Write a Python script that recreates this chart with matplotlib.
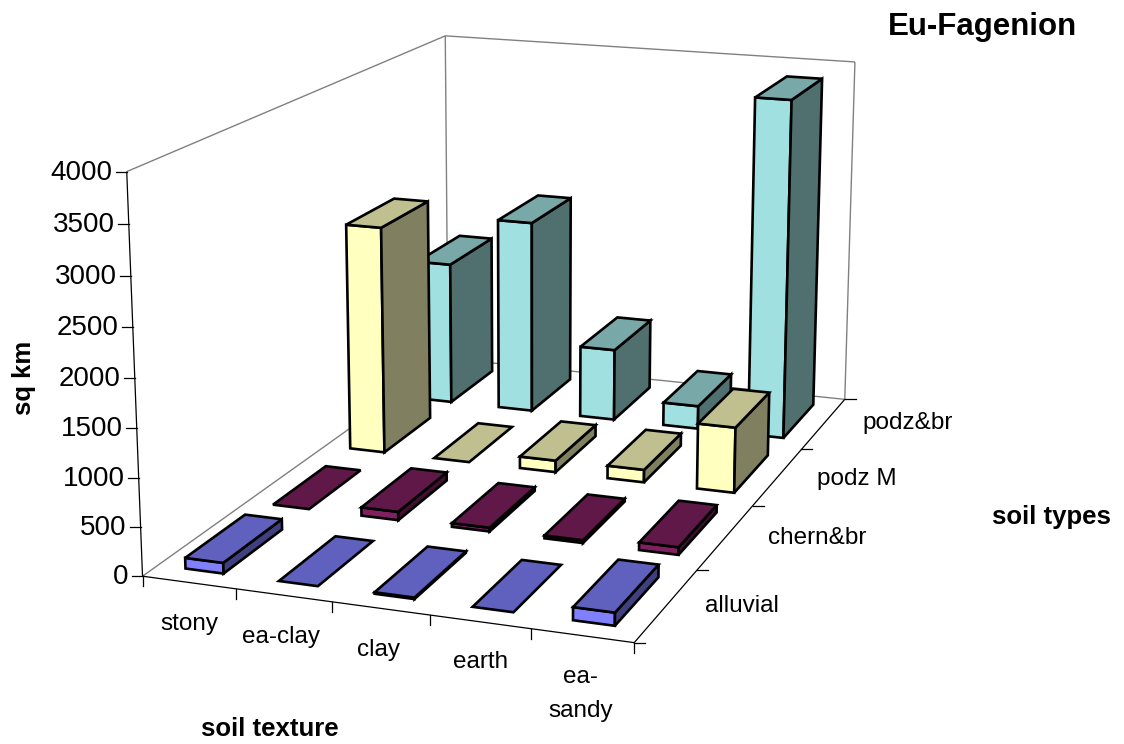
import matplotlib
matplotlib.use("Agg")
import matplotlib.pyplot as plt
from matplotlib.patches import Polygon
import numpy as np

plt.rcParams['font.family'] = ['Liberation Sans', 'DejaVu Sans']

textures = ['stony', 'ea-clay', 'clay', 'earth', 'ea-\nsandy']
soil_types = ['alluvial', 'chern&br', 'podz M', 'podz&br']
z_ticks = [0, 500, 1000, 1500, 2000, 2500, 3000, 3500, 4000]

alluvial = [110, 0, 15, 0, 130]
chern_br = [0, 90, 40, 30, 80]
podz_m = [2540, 0, 130, 140, 720]
podz_br = [1650, 2225, 825, 265, 3845]
series = [alluvial, chern_br, podz_m, podz_br]

front_colors = ['#8080FF', '#802060', '#FFFFC0', '#A0E0E0']

BAR_W = 0.41
BAR_D = 0.67
nx, ny = len(textures), len(soil_types)
ztop = z_ticks[-1]

# box corners (x, y, z) and where they land on the canvas, used to fit the camera
box_pts = np.array([
    [0, 0, 0], [nx, 0, 0], [nx, ny, 0], [0, ny, 0],
    [0, 0, ztop], [nx, ny, ztop], [0, ny, ztop],
], dtype=float)
canvas_pts = np.array([
    [142, 575.5], [634.5, 643], [844.5, 399], [448.5, 359],
    [127, 172], [855, 62], [445, 35.5],
], dtype=float)


def fit_camera(world, screen):
    rows, rhs = [], []
    for (x, y, z), (u, v) in zip(world, screen):
        rows.append([x, y, z, 1, 0, 0, 0, 0, -u * x, -u * y, -u * z])
        rows.append([0, 0, 0, 0, x, y, z, 1, -v * x, -v * y, -v * z])
        rhs += [u, v]
    sol = np.linalg.lstsq(np.array(rows), np.array(rhs), rcond=None)[0]
    return np.append(sol, 1).reshape(3, 4)


CAM = fit_camera(box_pts / [1, 1, 1000], canvas_pts)


def project(x, y, z):
    p = CAM @ np.array([x, y, z / 1000, 1.0])
    return p[0] / p[2], p[1] / p[2]


def shade(color, k):
    rgb = np.array(matplotlib.colors.to_rgb(color))
    return tuple(rgb * k)


def face(ax, corners, color):
    pts = [project(*c) for c in corners]
    ax.add_patch(Polygon(pts, closed=True, facecolor=color, edgecolor='black',
                         linewidth=1.9, joinstyle='miter', zorder=2))


def draw_bar(ax, i, j, value, color):
    x0 = i + 0.5 - BAR_W / 2
    x1 = i + 0.5 + BAR_W / 2
    y0 = j + 0.5 - BAR_D / 2
    y1 = j + 0.5 + BAR_D / 2
    if value > 0:
        face(ax, [(x0, y0, 0), (x1, y0, 0), (x1, y0, value), (x0, y0, value)], color)
        face(ax, [(x1, y0, 0), (x1, y1, 0), (x1, y1, value), (x1, y0, value)], shade(color, 0.5))
    face(ax, [(x0, y0, value), (x1, y0, value), (x1, y1, value), (x0, y1, value)], shade(color, 0.75))


def seg(ax, a, b, color='black', lw=1.0):
    pa, pb = project(*a), project(*b)
    ax.plot([pa[0], pb[0]], [pa[1], pb[1]], color=color, lw=lw, zorder=1,
            solid_capstyle='butt')


fig = plt.figure(figsize=(11.24, 7.44), dpi=100, facecolor='white')
ax = fig.add_axes([0, 0, 1, 1])
ax.set_xlim(0, 1124)
ax.set_ylim(744, 0)
ax.axis('off')

# walls
for a, b in [((0, 0, 0), (0, ny, 0)), ((0, ny, 0), (nx, ny, 0)), ((0, ny, 0), (0, ny, ztop)),
             ((nx, ny, 0), (nx, ny, ztop)), ((0, 0, ztop), (0, ny, ztop)),
             ((0, ny, ztop), (nx, ny, ztop))]:
    seg(ax, a, b, color='#808080')

# axes and tick marks
seg(ax, (0, 0, 0), (0, 0, ztop), lw=0.9)
seg(ax, (0, 0, 0), (nx, 0, 0), lw=0.9)
seg(ax, (nx, 0, 0), (nx, ny, 0), lw=0.9)

for z in z_ticks:
    u, v = project(0, 0, z)
    ax.plot([u - 11, u], [v, v], color='black', lw=0.9, zorder=1)
    ax.text(u - 14, v + 1, str(z), ha='right', va='center', fontsize=20)

for i in range(nx + 1):
    u, v = project(i, 0, 0)
    ax.plot([u, u], [v, v + 10], color='black', lw=0.9, zorder=1)

for j in range(ny + 1):
    u, v = project(nx, j, 0)
    ax.plot([u, u + 11], [v, v], color='black', lw=0.9, zorder=1)

# bars, back row first
for j in range(ny - 1, -1, -1):
    for i in range(nx):
        draw_bar(ax, i, j, series[j][i], front_colors[j])

texture_pos = [(189, 624), (281, 637), (379, 650), (481, 662), (581, 694)]
for name, (u, v) in zip(textures, texture_pos):
    ax.text(u, v, name, ha='center', va='center', fontsize=17.5, linespacing=1.7)

type_pos = [(742, 606), (817, 538), (857, 479), (908, 423)]
for name, (u, v) in zip(soil_types, type_pos):
    ax.text(u, v, name, ha='center', va='center', fontsize=17.5)

ax.text(982, 27, 'Eu-Fagenion', ha='center', va='center', fontsize=22.5, fontweight='bold')
ax.text(1051, 517, 'soil types', ha='center', va='center', fontsize=18.5, fontweight='bold')
ax.text(270, 729, 'soil texture', ha='center', va='center', fontsize=18.5, fontweight='bold')
ax.text(24, 378, 'sq km', ha='center', va='center', rotation=90, fontsize=18.5, fontweight='bold')

fig.savefig('out.png', dpi=100)
